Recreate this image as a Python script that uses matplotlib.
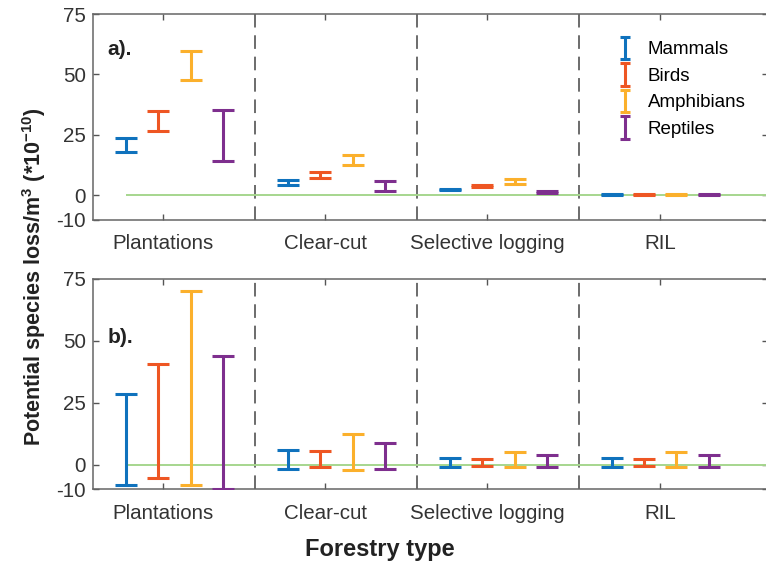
import matplotlib.pyplot as plt
import numpy as np
from matplotlib.container import ErrorbarContainer
from matplotlib.legend_handler import HandlerErrorbar
from matplotlib.lines import Line2D

plt.rcParams['font.family'] = ['Liberation Sans', 'DejaVu Sans']
plt.rcParams['mathtext.fontset'] = 'custom'
plt.rcParams['mathtext.rm'] = 'Liberation Sans:bold'
plt.rcParams['mathtext.default'] = 'rm'
plt.rcParams['axes.unicode_minus'] = False

# data
forestry = ['Plantations', 'Clear-cut', 'Selective logging', 'RIL']
taxa = ['Mammals', 'Birds', 'Amphibians', 'Reptiles']
colors = ['#0f72bd', '#ee5623', '#fbb02c', '#7e2f8e']

# panel a): lower / upper bound, rows = taxa, columns = forestry type
a_low = [[18.0, 4.3, 2.15, 0.1],
         [26.8, 7.2, 3.3, 0.1],
         [47.7, 12.7, 4.75, 0.1],
         [14.0, 1.9, 1.0, 0.1]]
a_high = [[23.8, 6.3, 2.7, 0.4],
          [34.9, 9.5, 4.1, 0.4],
          [59.8, 16.7, 6.55, 0.4],
          [35.3, 5.9, 1.6, 0.4]]

# panel b)
b_low = [[-8.3, -1.6, -1.1, -1.1],
         [-5.4, -0.8, -0.6, -0.6],
         [-8.3, -2.1, -1.1, -1.1],
         [-9.7, -1.7, -1.1, -1.1]]
b_high = [[28.4, 5.9, 2.7, 2.7],
          [40.5, 5.4, 2.3, 2.3],
          [70.3, 12.5, 5.1, 5.1],
          [43.8, 8.8, 3.9, 3.9]]

yticks = [-10, 0, 25, 50, 75]
tick_pos = [0.93, 1.93, 2.93, 4.0]
offsets = [-0.3, -0.1, 0.1, 0.3]


class SmallCapHandler(HandlerErrorbar):
    # legend caps are narrower than the plotted ones
    def create_artists(self, *args, **kwargs):
        artists = super().create_artists(*args, **kwargs)
        for a in artists:
            if isinstance(a, Line2D) and a.get_marker() == '_':
                a.set_markersize(6.5)
        return artists


def draw_panel(ax, low, high, tag):
    centers = np.arange(1, len(forestry) + 1)
    for i, name in enumerate(taxa):
        lo = np.array(low[i])
        hi = np.array(high[i])
        mid = (lo + hi) / 2
        ax.errorbar(centers + offsets[i], mid, yerr=[mid - lo, hi - mid],
                    fmt='none', ecolor=colors[i], elinewidth=2.2,
                    capsize=7.8, capthick=2.2, label=name, zorder=3)
    xmax = 4.665
    ax.hlines(0, centers[0] + offsets[0], xmax, color='#a6d68e', lw=1.4, zorder=2)
    for xd in centers[:-1] + 0.5:
        ax.axvline(xd, color='#6b6b6b', lw=1.4, ls=(0, (7, 4)), zorder=1)
    ax.set_xlim(0.497, xmax)
    ax.set_ylim(-10, 75)
    ax.set_yticks(yticks)
    ax.set_xticks(tick_pos)
    ax.set_xticklabels(forestry)
    ax.tick_params(direction='in', length=4.5, width=1.0, color='#555555',
                   labelsize=14.8, labelcolor='#333333', top=True, right=True)
    ax.tick_params(axis='x', pad=10.5)
    ax.tick_params(axis='y', pad=5)
    for s in ax.spines.values():
        s.set_color('#666666')
        s.set_linewidth(1.1)
    ax.text(0.021, tag[1], tag[0], transform=ax.transAxes, fontsize=15,
            fontweight='bold', color='#222222', va='center', ha='left')


fig = plt.figure(figsize=(7.66, 5.65), dpi=100)
ax1 = fig.add_axes([0.1214, 0.6115, 0.8812, 0.3637])
ax2 = fig.add_axes([0.1214, 0.1338, 0.8812, 0.3724])

draw_panel(ax1, a_low, a_high, ('a).', 0.825))
draw_panel(ax2, b_low, b_high, ('b).', 0.724))

ax1.legend(loc='upper left', bbox_to_anchor=(0.8037, 0.927),
           bbox_transform=fig.transFigure, frameon=False, fontsize=13.5,
           handlelength=1.0, handletextpad=0.7, labelspacing=0.5,
           borderpad=0, borderaxespad=0,
           handler_map={ErrorbarContainer: SmallCapHandler(yerr_size=0.6)})

fig.text(0.045, 0.51, 'Potential species loss/m$^{3}$ (*10$^{-10}$)',
         rotation=90, fontsize=15.5, fontweight='bold', color='#222222',
         ha='center', va='center')
fig.text(0.496, 0.028, 'Forestry type', fontsize=17, fontweight='bold',
         color='#222222', ha='center', va='center')

fig.savefig('out.png', dpi=100)
